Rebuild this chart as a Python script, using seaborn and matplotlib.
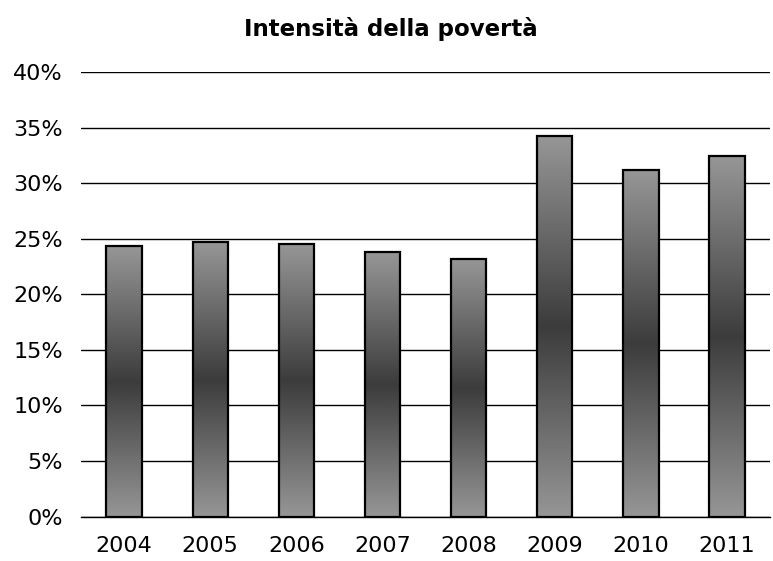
import numpy as np
import pandas as pd
import seaborn as sns
import matplotlib.pyplot as plt
from matplotlib.colors import LinearSegmentedColormap

years = ["2004", "2005", "2006", "2007", "2008", "2009", "2010", "2011"]
intensity = [24.3, 24.7, 24.5, 23.8, 23.2, 34.2, 31.2, 32.4]

df = pd.DataFrame({"Anno": years, "Intensita": intensity})

sns.set_style("white")
plt.rcParams["font.family"] = ["DejaVu Sans"]
plt.rcParams["text.color"] = "black"
plt.rcParams["xtick.color"] = "black"
plt.rcParams["ytick.color"] = "black"

fig = plt.figure(figsize=(7.73, 5.61), dpi=100)
ax = fig.add_axes([0.1048, 0.0793, 0.8915, 0.7924])

sns.barplot(x="Anno", y="Intensita", data=df, ax=ax, color="#969696",
            width=0.41, edgecolor="black", linewidth=1.6, errorbar=None, zorder=3)

# gradient fill: light at ends, dark in the middle
cmap = LinearSegmentedColormap.from_list("bar", ["#969696", "#3c3c3c", "#969696"])
grad = np.linspace(0, 1, 256).reshape(-1, 1)
for bar in ax.patches:
    x0, y0 = bar.get_x(), bar.get_y()
    w, h = bar.get_width(), bar.get_height()
    im = ax.imshow(grad, cmap=cmap, aspect="auto", extent=[x0, x0 + w, y0, y0 + h],
                   origin="lower", zorder=2, interpolation="bicubic")
    im.set_clip_path(bar)
    bar.set_facecolor("none")

ax.set_xlim(-0.5, len(years) - 0.5)
ax.set_ylim(0, 40)
ax.set_yticks(np.arange(0, 41, 5))
ax.set_yticklabels([f"{v}%" for v in range(0, 41, 5)])
ax.yaxis.grid(True, color="black", linewidth=1.0, zorder=0)
ax.set_axisbelow(True)

ax.set_xticks(np.arange(len(years) + 1) - 0.5, minor=True)
ax.tick_params(axis="x", which="minor", length=6, width=1, color="black", direction="out")
ax.tick_params(axis="x", which="major", length=0, pad=14, labelsize=16, labelcolor="black")
ax.tick_params(axis="y", length=0, pad=13, labelsize=16, labelcolor="black")

ax.set_xlabel("")
ax.set_ylabel("")
sns.despine(ax=ax, left=True)
ax.spines["bottom"].set_color("black")
ax.spines["bottom"].set_linewidth(1.0)

fig.suptitle("Intensità della povertà", fontsize=16.5, fontweight="bold",
             color="black", x=0.506, y=0.97)

plt.savefig("out.png", dpi=100)
